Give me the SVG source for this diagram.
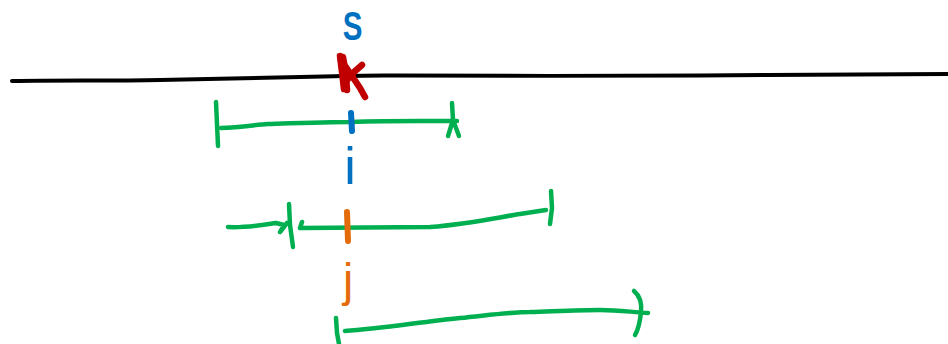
<svg xmlns="http://www.w3.org/2000/svg" width="948" height="344" viewBox="0 0 948 344">
  <style>
    .ink { fill: none; stroke-linecap: round; stroke-linejoin: round; }
    .axis { stroke: #000000; stroke-width: 4; }
    .green { stroke: #00B050; stroke-width: 4.5; }
    .red { stroke: #C00000; stroke-width: 6.5; }
    .blue { stroke: #0070C0; stroke-width: 6; }
    .orange { stroke: #E46C0A; stroke-width: 6; }
    .label { font-family: "Liberation Sans", "DejaVu Sans", sans-serif; text-anchor: middle; }
  </style>
  <rect width="948" height="344" fill="#ffffff"/>

  <!-- main horizontal line -->
  <g id="axis">
    <path class="ink axis" d="M12,81 C60,80 110,81 160,80 C220,79 260,78 300,77 C330,76 360,75 400,75.5 C500,76 600,76 700,75.5 C780,75 820,74 948,74"/>
  </g>

  <!-- S label with red cross mark on the line -->
  <g id="s-mark">
    <text class="label" x="0" y="0" font-size="41" font-weight="bold" fill="#0070C0" transform="translate(352.5,40) scale(0.72,1)">S</text>
    <path class="ink red" d="M340,56 L342,72 L344,89"/>
    <path class="ink red" d="M343,57 L346,75 L347,90"/>
    <path class="ink red" d="M341,60 L352,76 L360,88 L365,97"/>
    <path class="ink red" d="M362,65 L354,72 L347,80"/>
  </g>

  <!-- interval around i -->
  <g id="interval-i">
    <path class="ink green" d="M216,102 L217,124 L218,146"/>
    <path class="ink green" d="M221,128 C240,127 255,125 268,124 C300,123 330,122 350,122 C380,121 400,121 420,121 L457,121"/>
    <path class="ink green" d="M452,103 L453,120 L448,136 M453,120 L459,136"/>
  </g>

  <!-- marker i -->
  <g id="marker-i">
    <path class="ink blue" d="M351,113 L352,131"/>
    <text class="label" x="350" y="184" font-size="52" fill="#0070C0">i</text>
  </g>

  <!-- interval around j -->
  <g id="interval-j">
    <path class="ink green" d="M228,227 C245,228 262,225 276,223 L284,225 L280,232 L287,223"/>
    <path class="ink green" d="M289,204 L290,225 L293,247"/>
    <path class="ink green" d="M302,222 L300,228 C340,228 380,227 430,227 C470,224 500,217 520,214 L546,210"/>
    <path class="ink green" d="M551,191 L552,208 L550,224"/>
  </g>

  <!-- marker j -->
  <g id="marker-j">
    <path class="ink orange" d="M347,212 L348,241"/>
    <text class="label" x="348" y="296" font-size="46" fill="#E46C0A">j</text>
  </g>

  <!-- interval beyond j -->
  <g id="interval-far">
    <path class="ink green" d="M336,318 L337,333 L339,344"/>
    <path class="ink green" d="M345,331 C380,329 420,322 460,318 C490,315 510,312 530,312 C560,311 580,310 600,310 C620,310 630,312 648,313"/>
    <path class="ink green" d="M634,291 C640,296 642,303 641,312 C640,322 638,330 635,335"/>
  </g>
</svg>
